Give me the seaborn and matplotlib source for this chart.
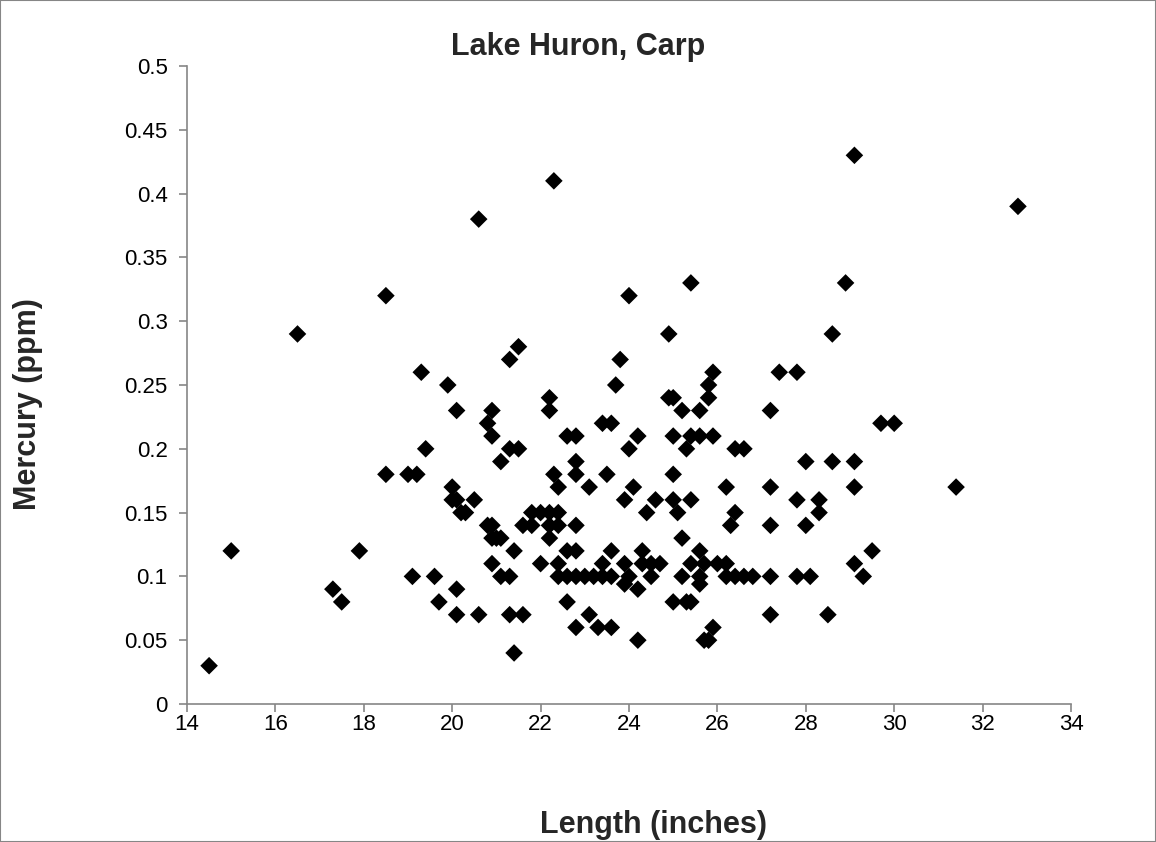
import matplotlib
matplotlib.use("Agg")
import matplotlib.pyplot as plt
import seaborn as sns
import pandas as pd
from matplotlib.patches import Rectangle

# Data (grouped by mercury level)
rows = {
    0.43: [29.1],
    0.41: [22.3],
    0.39: [32.8],
    0.38: [20.6],
    0.33: [25.4, 28.9],
    0.32: [18.5, 24.0],
    0.29: [16.5, 24.9, 28.6],
    0.28: [21.5],
    0.27: [21.3, 23.8],
    0.26: [19.3, 25.9, 27.4, 27.8],
    0.25: [19.9, 23.7, 25.8],
    0.24: [22.2, 24.9, 25.0, 25.8],
    0.23: [20.1, 20.9, 22.2, 25.2, 25.6, 27.2],
    0.22: [20.8, 23.4, 23.6, 29.7, 30.0],
    0.21: [20.9, 22.6, 22.8, 24.2, 25.0, 25.4, 25.6, 25.9],
    0.20: [19.4, 21.3, 21.5, 24.0, 25.3, 26.4, 26.6],
    0.19: [21.1, 22.8, 28.0, 28.6, 29.1],
    0.18: [18.5, 19.0, 19.2, 22.3, 22.8, 23.5, 25.0],
    0.17: [20.0, 22.4, 23.1, 24.1, 26.2, 27.2, 29.1, 31.4],
    0.16: [20.0, 20.1, 20.5, 23.9, 24.6, 25.0, 25.4, 27.8, 28.3],
    0.15: [20.2, 20.3, 21.8, 22.0, 22.2, 22.4, 24.4, 25.1, 26.4, 28.3],
    0.14: [20.8, 20.9, 21.6, 21.8, 22.2, 22.4, 22.8, 26.3, 27.2, 28.0],
    0.13: [20.9, 21.0, 21.1, 22.2, 25.2],
    0.12: [15.0, 17.9, 21.4, 22.6, 22.8, 23.6, 24.3, 25.6, 29.5],
    0.11: [20.9, 22.0, 22.4, 23.4, 23.9, 24.3, 24.5, 24.7, 25.4, 25.7, 26.0, 26.2, 29.1],
    0.10: [19.1, 19.6, 21.1, 21.3, 22.4, 22.6, 22.8, 23.0, 23.2, 23.4, 23.6, 24.0,
           24.5, 25.2, 25.6, 26.2, 26.4, 26.6, 26.8, 27.2, 27.8, 28.1, 29.3],
    0.094: [23.9, 25.6],
    0.09: [17.3, 20.1, 24.2],
    0.08: [17.5, 19.7, 22.6, 25.0, 25.3, 25.4],
    0.07: [20.1, 20.6, 21.3, 21.6, 23.1, 27.2, 28.5],
    0.06: [22.8, 23.3, 23.6, 25.9],
    0.05: [24.2, 25.7, 25.8],
    0.04: [21.4],
    0.03: [14.5],
}
length = [x for m, xs in rows.items() for x in xs]
mercury = [m for m, xs in rows.items() for x in xs]

x_ticks = [14, 16, 18, 20, 22, 24, 26, 28, 30, 32, 34]
y_ticks = [0, 0.05, 0.1, 0.15, 0.2, 0.25, 0.3, 0.35, 0.4, 0.45, 0.5]
y_tick_labels = ["0", "0.05", "0.1", "0.15", "0.2", "0.25", "0.3", "0.35", "0.4", "0.45", "0.5"]

df = pd.DataFrame({"Length": length, "Mercury": mercury})

sns.set_style("white")
plt.rcParams["font.family"] = ["Liberation Sans", "DejaVu Sans"]

fig = plt.figure(figsize=(11.56, 8.42), dpi=100)
ax = fig.add_axes([187/1156, 1-704/842, (1071-187)/1156, (704-66)/842])

sns.scatterplot(data=df, x="Length", y="Mercury", marker="D", color="black",
                edgecolor="none", s=80, ax=ax, legend=False, clip_on=False)

ax.set_xlim(14, 34)
ax.set_ylim(0, 0.5)
ax.set_xticks(x_ticks)
ax.set_xticklabels([str(t) for t in x_ticks])
ax.set_yticks(y_ticks)
ax.set_yticklabels(y_tick_labels)
ax.tick_params(axis="both", which="major", length=6, width=1.2, color="#868686",
               labelsize=16, labelcolor="black", direction="out")
ax.tick_params(axis="x", bottom=True, pad=1)
ax.tick_params(axis="y", left=True, pad=8)
for side in ["top", "right"]:
    ax.spines[side].set_visible(False)
for side in ["left", "bottom"]:
    ax.spines[side].set_color("#868686")
    ax.spines[side].set_linewidth(1.2)
ax.set_xlabel("")
ax.set_ylabel("")

fig.text(578/1156, 1-55/842, "Lake Huron, Carp", ha="center", va="baseline",
         fontsize=22, fontweight="bold")
fig.text(653/1156, 1-825/842, "Length (inches)", ha="center", va="center",
         fontsize=22, fontweight="bold")
fig.text(28/1156, 1-404/842, "Mercury (ppm)", ha="center", va="center",
         fontsize=22, fontweight="bold", rotation=90)

fig.patches.append(Rectangle((0, 0), 1, 1, transform=fig.transFigure, fill=False,
                             edgecolor="#868686", linewidth=1.5))

fig.savefig("out.png", dpi=100)
